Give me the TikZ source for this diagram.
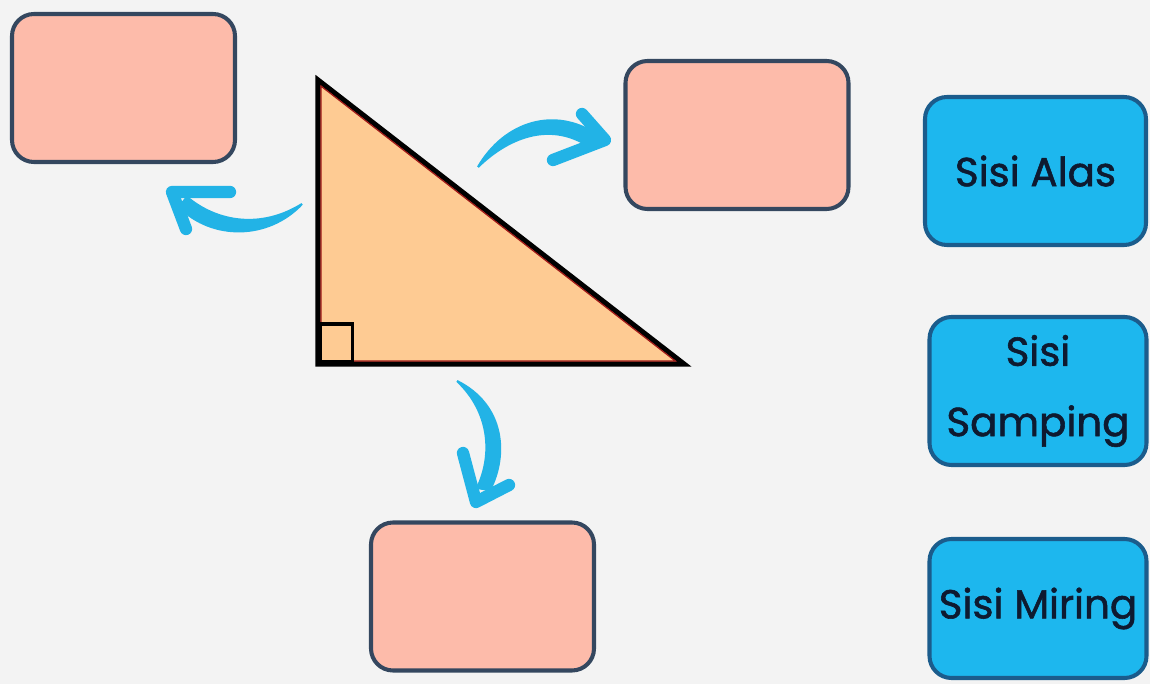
\documentclass[tikz,border=0pt]{standalone}
\usepackage{fontspec}
\setmainfont{Poppins}
\newfontfamily\cardfont[FakeBold=1.4]{Poppins}
\definecolor{paper}{HTML}{F3F3F3}
\definecolor{pinkfill}{HTML}{FDBBAA}
\definecolor{slateline}{HTML}{34475F}
\definecolor{skyfill}{HTML}{1DB7EE}
\definecolor{skyline}{HTML}{1B5C8C}
\definecolor{inktext}{HTML}{0E1A30}
\definecolor{trifill}{HTML}{FECB93}
\definecolor{trired}{HTML}{A01818}
\definecolor{brushblue}{HTML}{22B3E6}

\begin{document}
\begin{tikzpicture}[
    x=0.2mm, y=-0.2mm,
    line width=0.6pt,
    answerbox/.style={draw=slateline, fill=pinkfill, line width=2.3pt,
      rounded corners=4.4mm, minimum width=44.6mm, minimum height=29.6mm},
    labelbox/.style={draw=skyline, fill=skyfill, line width=2.3pt,
      rounded corners=4.4mm, minimum width=43.4mm, minimum height=29.6mm,
      text=inktext, align=center, font=\cardfont\fontsize{23}{40}\selectfont},
    brushbody/.style={fill=brushblue, draw=brushblue, line width=1.2pt,
      line join=round},
    brushhead/.style={draw=brushblue, line width=7pt, line cap=round,
      line join=round},
  ]

  % ---------- Page background ---------------------------------------------
  \fill[paper] (0,0) rectangle (1150,684);
  \useasboundingbox (0,0) rectangle (1150,684);

  % ---------- Empty answer boxes (pink) ------------------------------------
  \node[answerbox] (kotakkiri) at (123.5,88) {};
  \node[answerbox] (kotakkanan) at (737,135) {};
  \node[answerbox] (kotakbawah) at (482.5,596.5) {};

  % ---------- Label cards (blue, right column) -----------------------------
  \node[labelbox, minimum width=44.2mm] (alas) at (1035.5,171) {Sisi Alas};
  \node[labelbox] (samping) at (1038,391) {Sisi\\Samping};
  \node[labelbox, minimum height=27.8mm] (miring) at (1038,608.5) {Sisi Miring};

  % ---------- Right triangle -----------------------------------------------
  \coordinate (puncak) at (318,80);
  \coordinate (siku) at (318,364);
  \coordinate (ujung) at (684,364);
  \filldraw[fill=trifill, draw=black, line width=2.9pt]
    (puncak) -- (siku) -- (ujung) -- cycle;
  % thin red edge just inside the black outline
  \draw[trired, line width=0.7pt] (321,86.1) -- (321,361) -- (675.3,361) -- cycle;
  % right-angle mark
  \draw[black, line width=2pt] (320.5,324) rectangle (352.5,362);

  % ---------- Brush arrows (tapered body + barbed head) -------------------
  % left: triangle -> top-left box
  \coordinate (kiriekor) at (302,204);
  \coordinate (kiriujung) at (172,192);
  \fill[brushbody] (kiriekor) .. controls (262,229) and (218,223) .. (187,197)
    -- (179,207) .. controls (212,240) and (268,240) .. (kiriekor);
  \draw[brushhead] (230,192) -- (kiriujung) -- (186,229);

  % right: triangle -> top-right box
  \coordinate (kananekor) at (478,167);
  \coordinate (kananujung) at (605,140);
  \fill[brushbody] (kananekor) .. controls (505,121) and (555,107) .. (596,134)
    -- (588,146) .. controls (553,123) and (512,134) .. (kananekor);
  \draw[brushhead] (582,114) -- (kananujung) -- (553,160);

  % down: triangle -> bottom box
  \coordinate (bawahekor) at (457,381);
  \coordinate (bawahujung) at (476,502);
  \fill[brushbody] (bawahekor) .. controls (505,405) and (508,455) .. (490,490)
    -- (477,488) .. controls (493,455) and (490,412) .. (bawahekor);
  \draw[brushhead] (463,453) -- (bawahujung) -- (509,485);

\end{tikzpicture}
\end{document}
